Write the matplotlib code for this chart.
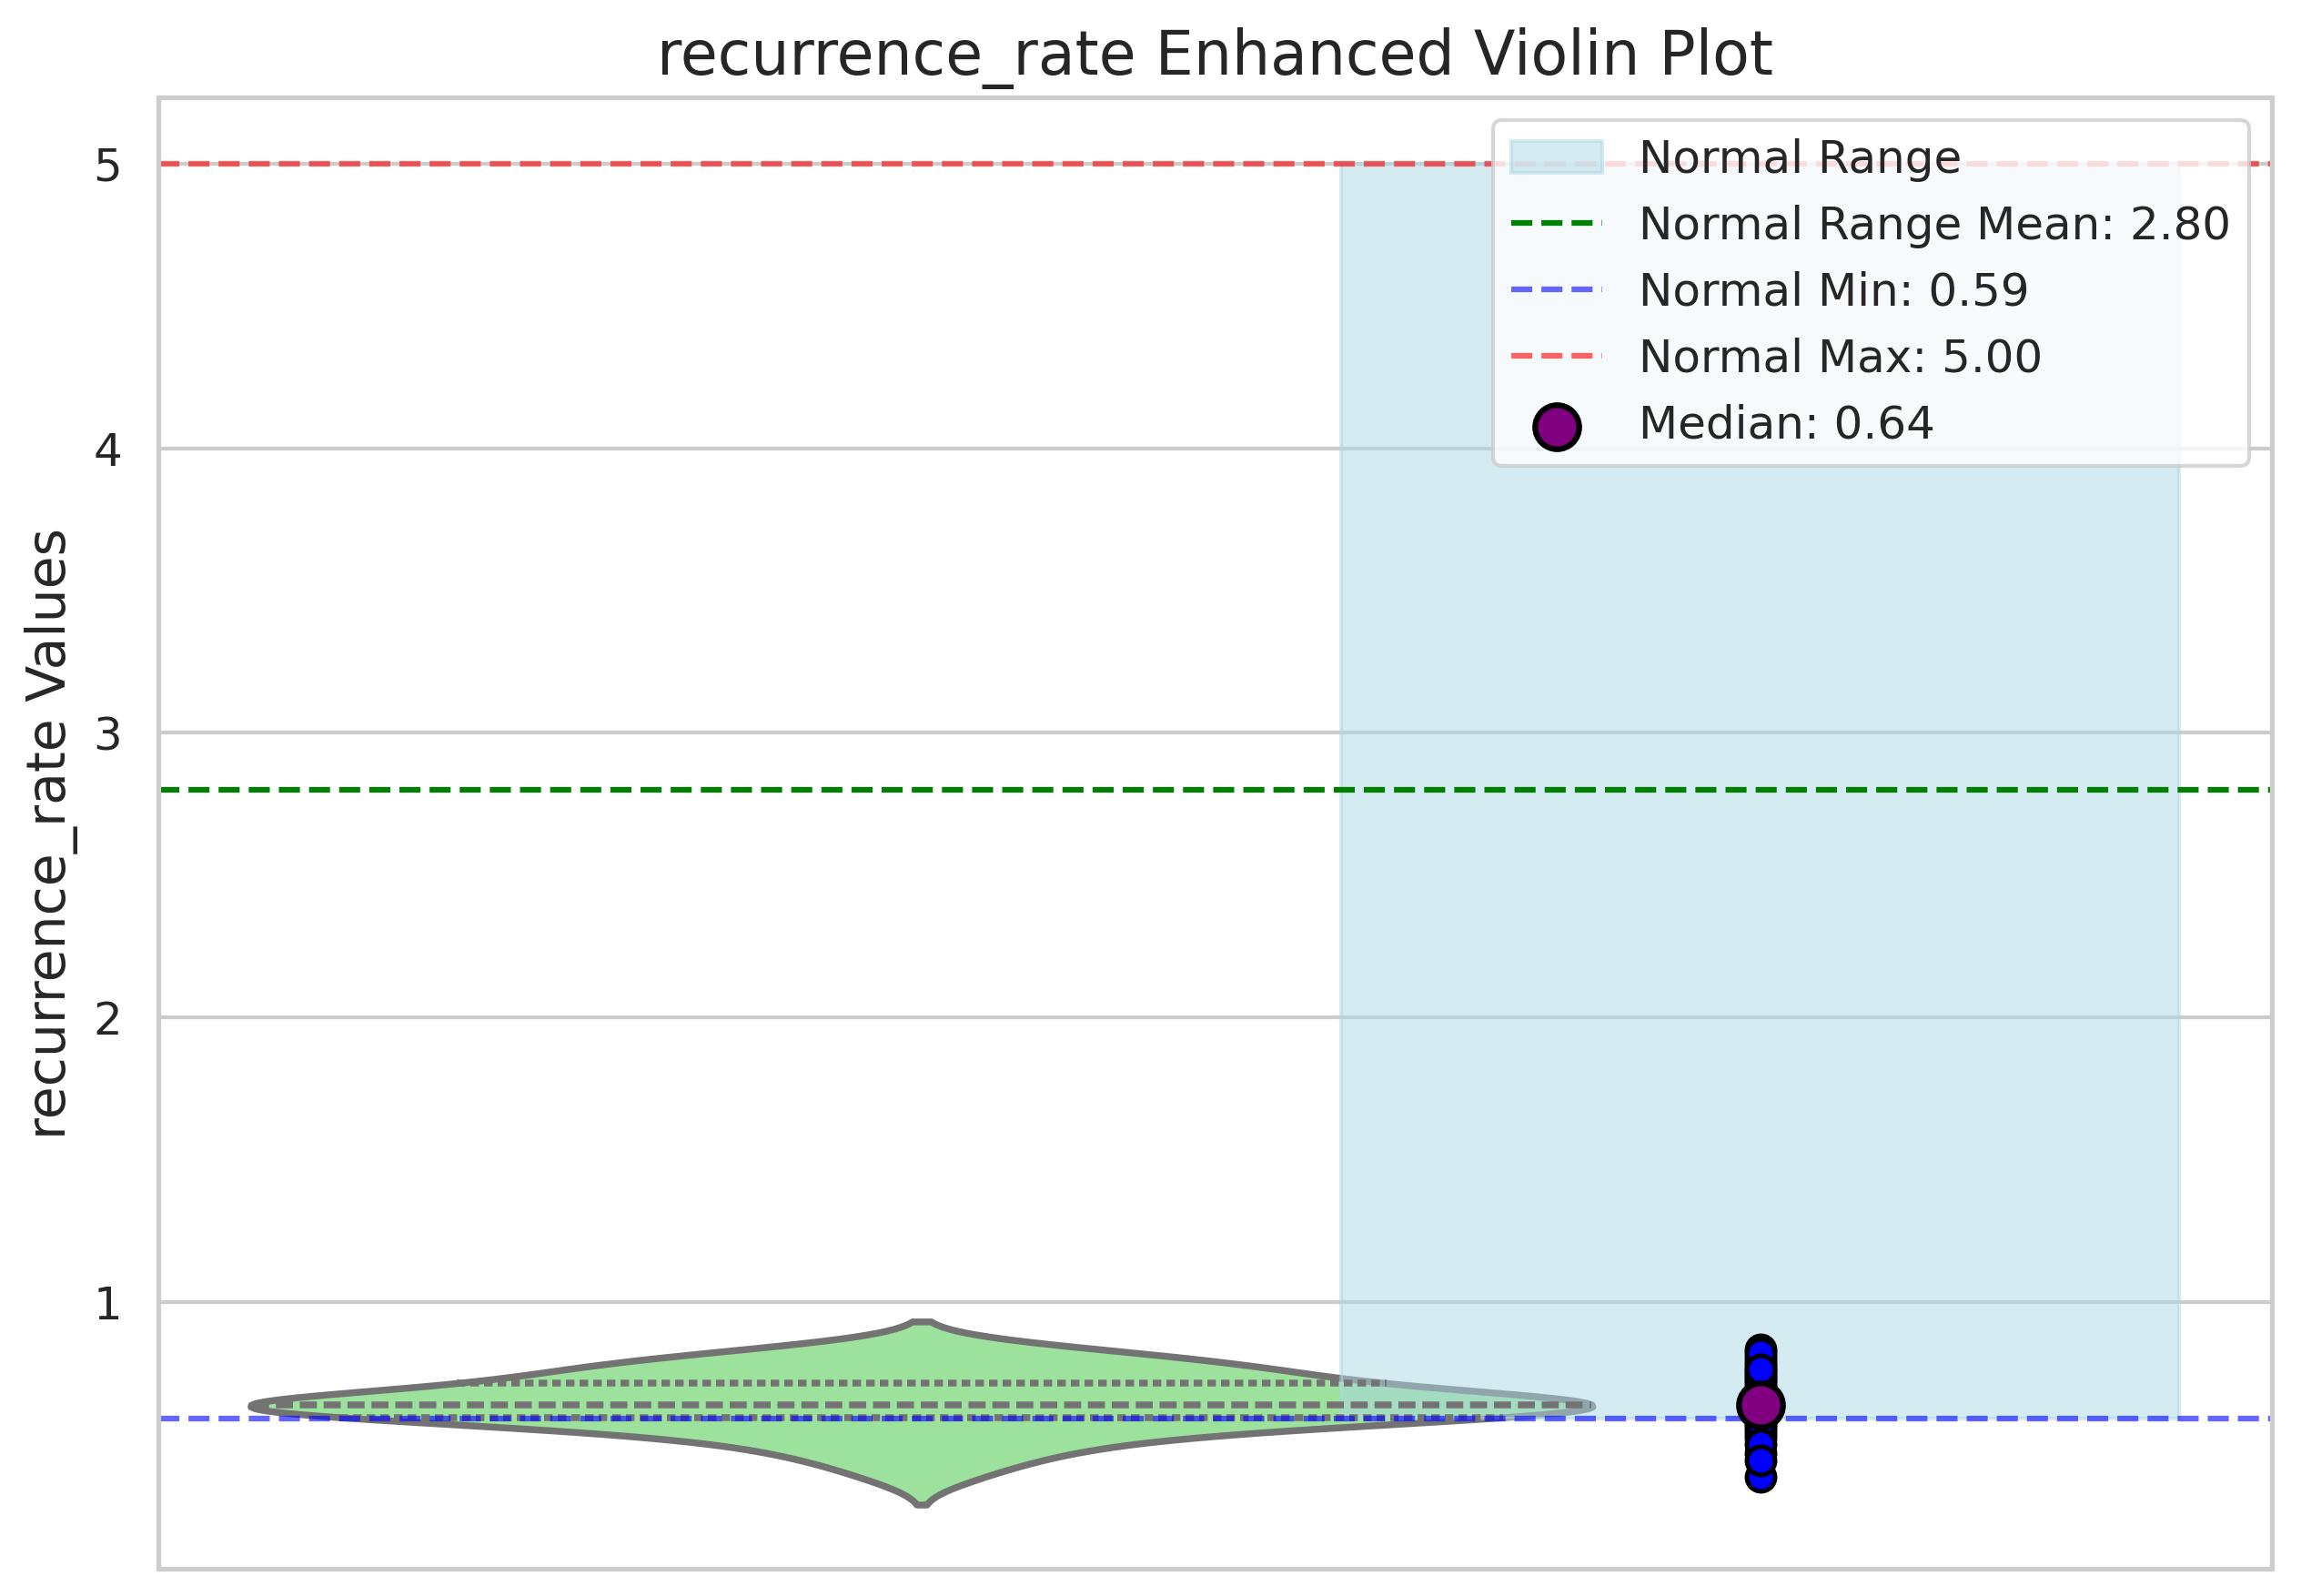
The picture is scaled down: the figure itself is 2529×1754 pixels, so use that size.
import numpy as np
import matplotlib
matplotlib.use("Agg")
import matplotlib.pyplot as plt
import seaborn as sns

values = [0.642, 0.610, 0.834, 0.597, 0.700, 0.568, 0.628, 0.656, 0.386, 0.745,
          0.615, 0.690, 0.540, 0.635, 0.590, 0.805, 0.650, 0.603, 0.775, 0.524,
          0.632, 0.670, 0.555, 0.712, 0.620, 0.790, 0.646, 0.578, 0.725, 0.470,
          0.638, 0.680, 0.624, 0.757, 0.662, 0.500, 0.820, 0.444, 0.735, 0.763]

# normal reference range
normal_min = 0.59
normal_max = 5.00
normal_mean = 2.80

data = np.array(values)
median = np.median(data)

sns.set_theme(style="whitegrid")

fig = plt.figure(figsize=(2529 / 300, 1754 / 300), dpi=300)
ax = fig.add_axes([0.0688, 0.0171, 0.9185, 0.9219])

sns.violinplot(y=data, color="lightgreen", inner="quart", width=1.6,
               linewidth=1.8, ax=ax)

# normal range band next to the violin
ax.fill_betweenx([normal_min, normal_max], 0.5, 1.5, color="lightblue",
                 alpha=0.5, label="Normal Range")

ax.axhline(normal_mean, color="green", linestyle="--", linewidth=1.5,
           label=f"Normal Range Mean: {normal_mean:.2f}")
ax.axhline(normal_min, color="blue", linestyle="--", linewidth=1.5, alpha=0.6,
           label=f"Normal Min: {normal_min:.2f}")
ax.axhline(normal_max, color="red", linestyle="--", linewidth=1.5, alpha=0.6,
           label=f"Normal Max: {normal_max:.2f}")

# individual observations + median
ax.scatter(np.ones(len(data)), data, color="blue", edgecolor="black",
           s=55, linewidth=1.2, zorder=3)
ax.scatter([1], [median], color="purple", edgecolor="black", s=135,
           linewidth=1.5, zorder=4, label=f"Median: {median:.2f}")

ax.set_xlim(-0.91, 1.61)
ax.set_ylim(0.063, 5.233)
ax.set_xticks([])
ax.tick_params(axis="y", labelsize=12)
ax.set_title("recurrence_rate Enhanced Violin Plot", fontsize=16)
ax.set_ylabel("recurrence_rate Values", fontsize=14)
ax.legend(loc="upper right", fontsize=12)

fig.savefig("out.png", dpi=300)
